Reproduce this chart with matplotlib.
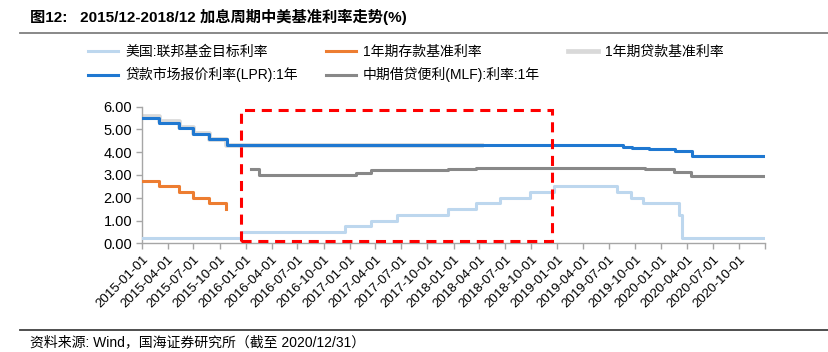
import matplotlib
matplotlib.use("Agg")
import matplotlib.pyplot as plt
import matplotlib.dates as mdates
from matplotlib.patches import Rectangle
import pandas as pd

plt.rcParams['font.family'] = ['Liberation Sans', 'Noto Sans CJK SC', 'DejaVu Sans']

# ---- data ----
fed_dates = ['2015-01-01', '2015-12-17', '2016-12-15', '2017-03-16', '2017-06-15', '2017-12-14',
             '2018-03-22', '2018-06-14', '2018-09-27', '2018-12-20', '2019-08-01', '2019-09-19',
             '2019-10-31', '2020-03-04', '2020-03-16', '2020-12-31']
fed_vals = [0.25, 0.5, 0.75, 1.0, 1.25, 1.5, 1.75, 2.0, 2.25, 2.5, 2.25, 2.0, 1.75, 1.25, 0.25, 0.25]

dep_dates = ['2015-01-01', '2015-03-01', '2015-05-11', '2015-06-28', '2015-08-26', '2015-10-24']
dep_vals = [2.75, 2.5, 2.25, 2.0, 1.75, 1.5]

loan_dates = ['2015-01-01', '2015-03-01', '2015-05-11', '2015-06-28', '2015-08-26', '2015-10-24', '2018-04-08']
loan_vals = [5.6, 5.35, 5.1, 4.85, 4.6, 4.33, 4.33]

lpr_dates = ['2015-01-01', '2015-03-02', '2015-05-11', '2015-06-29', '2015-08-26', '2015-10-26',
             '2019-08-20', '2019-09-20', '2019-11-20', '2020-02-20', '2020-04-20', '2020-12-31']
lpr_vals = [5.51, 5.3, 5.06, 4.81, 4.56, 4.3, 4.25, 4.2, 4.15, 4.05, 3.85, 3.85]

mlf_dates = ['2016-01-18', '2016-02-18', '2017-01-24', '2017-03-16', '2017-12-14', '2018-03-22',
             '2019-11-05', '2020-02-17', '2020-04-15', '2020-12-31']
mlf_vals = [3.25, 3.0, 3.1, 3.2, 3.25, 3.3, 3.25, 3.15, 2.95, 2.95]

labels = ['美国:联邦基金目标利率', '1年期存款基准利率', '1年期贷款基准利率',
          '贷款市场报价利率(LPR):1年', '中期借贷便利(MLF):利率:1年']

highlight_start, highlight_end = '2015-12-15', '2018-12-15'
highlight_low, highlight_high = 0.11, 5.85

yticks = [0, 1, 2, 3, 4, 5, 6]

title = '图12:   2015/12-2018/12 加息周期中美基准利率走势(%)'
source = '资料来源: Wind，国海证券研究所（截至 2020/12/31）'

# ---- figure ----
fig = plt.figure(figsize=(8.29, 3.52), dpi=100)
ax = fig.add_axes([0.1713, 0.3088, 0.7515, 0.3881])

td = lambda d: pd.to_datetime(d)

c_fed, c_dep, c_loan, c_lpr, c_mlf = '#BDD7EE', '#ED7D31', '#D9D9D9', '#1F78D1', '#888888'

l_fed, = ax.plot(td(fed_dates), fed_vals, drawstyle='steps-post', color=c_fed, lw=2.2, zorder=3)
l_dep, = ax.plot(td(dep_dates), dep_vals, drawstyle='steps-post', color=c_dep, lw=2.2, zorder=3)
l_loan, = ax.plot(td(loan_dates), loan_vals, drawstyle='steps-post', color=c_loan, lw=3.4, zorder=2)
l_lpr, = ax.plot(td(lpr_dates), lpr_vals, drawstyle='steps-post', color=c_lpr, lw=2.2, zorder=4)
l_mlf, = ax.plot(td(mlf_dates), mlf_vals, drawstyle='steps-post', color=c_mlf, lw=2.2, zorder=3)

x0 = mdates.date2num(td(highlight_start))
x1 = mdates.date2num(td(highlight_end))
rect = Rectangle((x0, highlight_low), x1 - x0, highlight_high - highlight_low, fill=False,
                 edgecolor='#FF0000', lw=2.2, linestyle=(0, (3.3, 2.2)), zorder=5, clip_on=False)
ax.add_patch(rect)

ax.set_xlim(td('2015-01-01'), td('2021-01-01'))
ax.set_ylim(0, 6)
ax.set_yticks(yticks)
ax.set_yticklabels([f'{v:.2f}' for v in yticks], fontsize=10.5)

ticks = pd.date_range('2015-01-01', '2021-01-01', freq='QS')
ax.set_xticks(ticks)
ax.set_xticklabels([t.strftime('%Y-%m-%d') if t.year < 2021 else '' for t in ticks],
                   rotation=45, ha='right', rotation_mode='anchor', fontsize=9.5)

for s in ['top', 'right']:
    ax.spines[s].set_visible(False)
for s in ['left', 'bottom']:
    ax.spines[s].set_color('#A6A6A6')
    ax.spines[s].set_linewidth(1.0)
ax.tick_params(axis='both', colors='#A6A6A6', length=4, width=1.0, labelcolor='black')
ax.tick_params(axis='x', pad=3)
ax.tick_params(axis='y', pad=3)

# legend filled column-wise: reorder so rows read fed, dep, loan / lpr, mlf
handles = [l_fed, l_lpr, l_dep, l_mlf, l_loan]
leg_labels = [labels[0], labels[3], labels[1], labels[4], labels[2]]
leg = fig.legend(handles, leg_labels, ncol=3, loc='upper left', bbox_to_anchor=(0.099, 0.888),
                 frameon=False, fontsize=10, handlelength=2.2, handletextpad=0.5,
                 columnspacing=2.0, labelspacing=0.6, borderaxespad=0)

fig.text(0.036, 0.952, title, fontsize=11, fontweight='bold', va='center', ha='left')
fig.add_artist(plt.Line2D([0.024, 1.0], [0.905, 0.905], color='#7F7F7F', lw=1.3,
                          transform=fig.transFigure))
fig.add_artist(plt.Line2D([0.024, 1.0], [0.062, 0.062], color='#404040', lw=1.3,
                          transform=fig.transFigure))
fig.text(0.036, 0.028, source, fontsize=10, va='center', ha='left')

fig.savefig('out.png', dpi=100)
